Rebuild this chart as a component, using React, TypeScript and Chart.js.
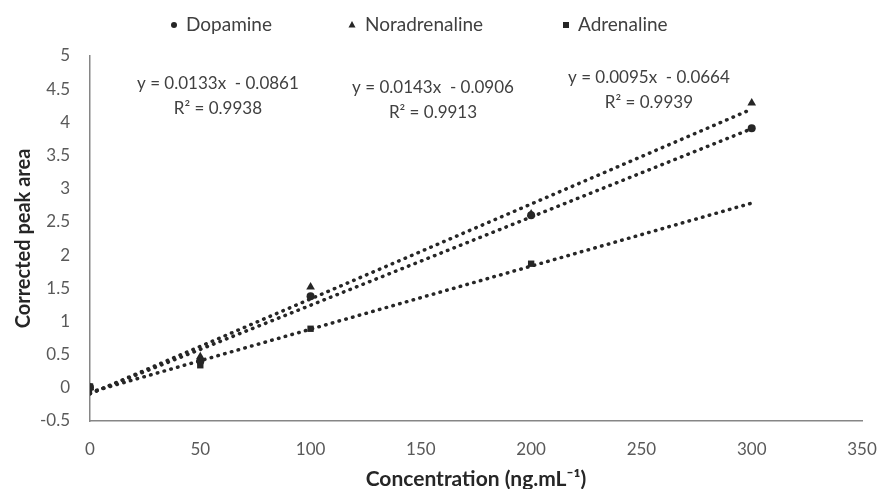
import React, { useEffect, useRef } from 'react';
import { Chart, registerables } from 'chart.js';

Chart.register(...registerables);

// ---- data ----
const concentrations = [0, 50, 100, 200, 300];
const dopamine = [0.01, 0.4, 1.38, 2.6, 3.91];
const noradrenaline = [0.0, 0.47, 1.52, 2.62, 4.29];
const adrenalineConcentrations = [0, 50, 100, 200];
const adrenaline = [0.02, 0.34, 0.89, 1.87];

const trendConcentrations = [0, 300];
const dopamineTrend = [-0.0861, 3.9039];
const noradrenalineTrend = [-0.0906, 4.1994];
const adrenalineTrend = [-0.0664, 2.7836];

const seriesNames = ['Dopamine', 'Noradrenaline', 'Adrenaline'];
const equations = ['y = 0.0133x  - 0.0861', 'y = 0.0143x  - 0.0906', 'y = 0.0095x  - 0.0664'];
const rSquared = ['R\u00B2 = 0.9938', 'R\u00B2 = 0.9913', 'R\u00B2 = 0.9939'];

const xTitle = 'Concentration (ng.mL\u207B\u00B9)';
const yTitle = 'Corrected peak area';

// ---- styling ----
const FONT = 'Lato, "Open Sans", sans-serif';
const INK = '#262626';
const TEXT = '#404040';
const TICK = '#595959';
const AXIS = '#868686';

const pts = (xs: number[], ys: number[]) => xs.map((x, i) => ({ x, y: ys[i] }));

// label anchors in data coordinates (x, y) for each equation block
const labelAnchors = [
  [58, 4.58],
  [155.5, 4.53],
  [253.4, 4.67],
];
// legend layout in pixels (marker x, text x)
const legendLayout = [
  [174, 186],
  [352, 365],
  [566, 578],
];
const legendY = 25;
const legendStyles = ['circle', 'triangle', 'rect'];

const overlayPlugin = {
  id: 'overlay',
  afterDraw(chart: any) {
    const { ctx, scales } = chart;
    ctx.save();
    // equations
    ctx.font = `17px ${FONT}`;
    ctx.fillStyle = TEXT;
    ctx.textAlign = 'center';
    ctx.textBaseline = 'middle';
    labelAnchors.forEach(([dx, dy], i) => {
      const px = scales.x.getPixelForValue(dx);
      const py = scales.y.getPixelForValue(dy);
      ctx.fillText(equations[i], px, py);
      ctx.fillText(rSquared[i], px, py + 25);
    });
    // legend
    ctx.font = `19px ${FONT}`;
    ctx.textAlign = 'left';
    legendLayout.forEach(([mx, tx], i) => {
      ctx.fillStyle = INK;
      const st = legendStyles[i];
      ctx.beginPath();
      if (st === 'circle') {
        ctx.arc(mx, legendY, 3, 0, Math.PI * 2);
      } else if (st === 'triangle') {
        ctx.moveTo(mx, legendY - 4);
        ctx.lineTo(mx + 3.5, legendY + 2.5);
        ctx.lineTo(mx - 3.5, legendY + 2.5);
        ctx.closePath();
      } else {
        ctx.rect(mx - 3, legendY - 3, 6, 6);
      }
      ctx.fill();
      ctx.fillStyle = TEXT;
      ctx.fillText(seriesNames[i], tx, legendY);
    });
    ctx.restore();
  },
};

export default function App() {
  const ref = useRef<HTMLCanvasElement | null>(null);

  useEffect(() => {
    if (!ref.current) return;
    const trendStyle = {
      showLine: true,
      borderColor: INK,
      borderWidth: 3.5,
      borderDash: [0.5, 6.5],
      borderCapStyle: 'round' as const,
      pointRadius: 0,
      pointHoverRadius: 0,
      fill: false,
    };
    const chart = new Chart(ref.current, {
      type: 'scatter',
      data: {
        datasets: [
          { label: seriesNames[0] + ' trend', data: pts(trendConcentrations, dopamineTrend), ...trendStyle },
          { label: seriesNames[1] + ' trend', data: pts(trendConcentrations, noradrenalineTrend), ...trendStyle },
          { label: seriesNames[2] + ' trend', data: pts(trendConcentrations, adrenalineTrend), ...trendStyle },
          {
            label: seriesNames[0],
            data: pts(concentrations, dopamine),
            pointStyle: 'circle',
            pointRadius: 4,
            backgroundColor: INK,
            borderColor: INK,
            borderWidth: 0,
          },
          {
            label: seriesNames[1],
            data: pts(concentrations, noradrenaline),
            pointStyle: 'triangle',
            pointRadius: 5,
            backgroundColor: INK,
            borderColor: INK,
            borderWidth: 0,
          },
          {
            label: seriesNames[2],
            data: pts(adrenalineConcentrations, adrenaline),
            pointStyle: 'rect',
            pointRadius: 4.5,
            backgroundColor: INK,
            borderColor: INK,
            borderWidth: 0,
          },
        ],
      },
      options: {
        animation: false,
        responsive: false,
        maintainAspectRatio: false,
        layout: { padding: { top: 56, right: 18, bottom: 0, left: 0 } },
        font: { family: FONT },
        plugins: {
          legend: { display: false },
          tooltip: { enabled: false },
        },
        scales: {
          x: {
            type: 'linear',
            min: 0,
            max: 350,
            ticks: {
              stepSize: 50,
              padding: 18,
              color: TICK,
              font: { family: FONT, size: 17 },
            },
            grid: { display: false, drawTicks: false },
            border: { display: true, color: AXIS, width: 1.5 },
            title: {
              display: true,
              text: xTitle,
              color: INK,
              font: { family: FONT, size: 21, weight: 'bold' },
              padding: { top: 0, bottom: -3 },
            },
            afterFit(scale: any) {
              scale.height = 68;
              scale.paddingLeft = 0;
              scale.paddingRight = 0;
            },
          },
          y: {
            type: 'linear',
            min: -0.5,
            max: 5,
            ticks: {
              stepSize: 0.5,
              padding: 20,
              color: TICK,
              font: { family: FONT, size: 17 },
              callback: (v: any) => String(Math.round(Number(v) * 10) / 10),
            },
            grid: { display: false, drawTicks: false },
            border: { display: true, color: AXIS, width: 1.5 },
            title: {
              display: true,
              text: yTitle,
              color: INK,
              font: { family: FONT, size: 20, weight: 'bold' },
              padding: { top: 12, bottom: 0 },
            },
            afterFit(scale: any) {
              scale.width = 90;
            },
          },
        },
      },
      plugins: [overlayPlugin],
    } as any);
    return () => chart.destroy();
  }, []);

  return (
    <div style={{ position: 'fixed', left: 0, top: 0, width: 880, height: 489, background: '#fff' }}>
      <canvas ref={ref} width={880} height={489} style={{ width: 880, height: 489, display: 'block' }} />
    </div>
  );
}
